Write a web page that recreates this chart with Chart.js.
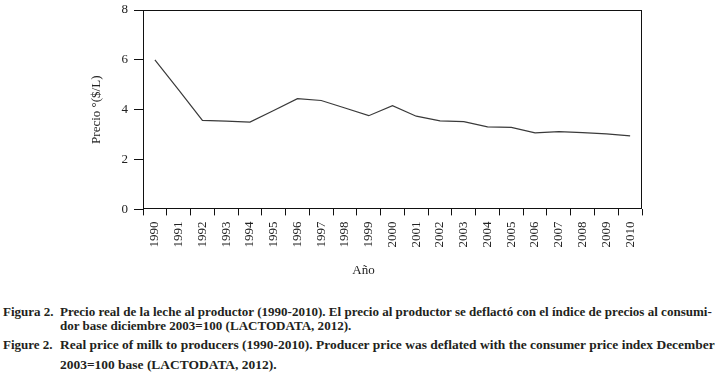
<!DOCTYPE html>
<html>
<head>
<meta charset="utf-8">
<script src="https://cdn.jsdelivr.net/npm/chart.js@4/dist/chart.umd.min.js"></script>
<style>
  html, body { margin: 0; padding: 0; background: #fff; }
  #wrap { position: relative; width: 724px; height: 376px; overflow: hidden; background:#fff; }
  #chart { position: absolute; left: 0; top: 0; }
  .cap { position: absolute; white-space: nowrap; font-family: "Liberation Serif", "DejaVu Serif", serif;
         font-size: 13px; line-height: 16px; font-weight: bold; color: #231f20; transform-origin: 0 50%; }
</style>
</head>
<body>
<div id="wrap">
  <canvas id="chart" width="724" height="290"></canvas>
  <div class="cap" id="l1a" style="left:3px; top:304px;">Figura 2.</div>
  <div class="cap" id="l1" style="left:60px; top:304px;">Precio real de la leche al productor (1990-2010). El precio al productor se deflactó con el índice de precios al consumi-</div>
  <div class="cap" id="l2" style="left:60px; top:318px;">dor base diciembre 2003=100 (LACTODATA, 2012).</div>
  <div class="cap" id="l3a" style="left:3px; top:337px;">Figure 2.</div>
  <div class="cap" id="l3" style="left:60px; top:337px;">Real price of milk to producers (1990-2010). Producer price was deflated with the consumer price index December</div>
  <div class="cap" id="l4" style="left:60px; top:357px;">2003=100 base (LACTODATA, 2012).</div>
</div>
<script>
const years = ["1990","1991","1992","1993","1994","1995","1996","1997","1998","1999","2000",
               "2001","2002","2003","2004","2005","2006","2007","2008","2009","2010"];
const prices = [6.0, 4.8, 3.57, 3.54, 3.5, 3.97, 4.44, 4.37, 4.07, 3.76, 4.16,
                3.74, 3.55, 3.52, 3.31, 3.29, 3.07, 3.12, 3.08, 3.03, 2.95];
const yTicks = [0, 2, 4, 6, 8];

const serif = "'Liberation Serif', 'DejaVu Serif', serif";
const frame = {
  id: 'frame',
  afterDraw(chart) {
    const a = chart.chartArea, ctx = chart.ctx;
    ctx.save();
    ctx.strokeStyle = '#111';
    ctx.lineWidth = 1;
    ctx.strokeRect(Math.round(a.left) + 0.5, Math.round(a.top) + 0.5,
                   Math.round(a.right - a.left) - 1, Math.round(a.bottom - a.top) - 1);
    ctx.restore();
  }
};

new Chart(document.getElementById('chart'), {
  type: 'line',
  data: {
    labels: years,
    datasets: [{
      data: prices,
      borderColor: '#3a3a3a',
      borderWidth: 1.2,
      pointRadius: 0,
      tension: 0,
      fill: false
    }]
  },
  options: {
    responsive: false,
    animation: false,
    devicePixelRatio: 1,
    layout: { padding: { left: 85, right: 82, top: 10, bottom: 12 } },
    plugins: {
      legend: { display: false },
      tooltip: { enabled: false },
      title: {
        display: true, text: 'Año', position: 'bottom', fullSize: true,
        color: '#222', font: { family: serif, size: 13, weight: 'normal' },
        padding: { top: 8, bottom: 0 }
      }
    },
    scales: {
      x: {
        offset: true,
        border: { display: false },
        grid: { display: true, offset: true, drawOnChartArea: false, drawTicks: true, tickLength: 6, color: '#111' },
        ticks: { color: '#222', font: { family: serif, size: 13 }, minRotation: 90, maxRotation: 90, padding: 6, autoSkip: false },
        afterFit(scale) { scale.height = 45; scale.paddingLeft = 0; scale.paddingRight = 0; }
      },
      y: {
        min: 0, max: 8,
        border: { display: false },
        grid: { display: true, drawOnChartArea: false, drawTicks: true, tickLength: 9, color: '#111' },
        ticks: {
          stepSize: 2, color: '#222', font: { family: serif, size: 13 }, padding: 6,
          callback: (v) => yTicks.includes(v) ? String(v) : ''
        },
        title: { display: true, text: 'Precio °($/L)', color: '#222', font: { family: serif, size: 13 }, padding: { top: 4, bottom: 4 } },
        afterFit(scale) { scale.width = 58; scale.paddingTop = 0; scale.paddingBottom = 0; }
      }
    }
  },
  plugins: [frame]
});

function fit(id, target, follow) {
  const el = document.getElementById(id);
  const w = el.scrollWidth;
  const s = target / w;
  el.style.transform = 'scaleX(' + s + ')';
  if (follow) document.getElementById(follow).style.transform = 'scaleX(' + s + ')';
}
fit('l1', 652, 'l2');
fit('l3', 655, 'l4');
</script>
</body>
</html>
